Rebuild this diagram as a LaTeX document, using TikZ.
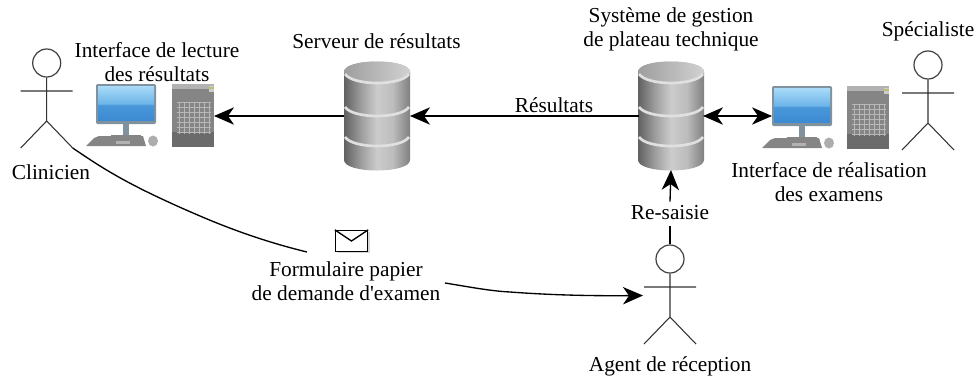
\documentclass[tikz,border=0pt]{standalone}
\usepackage{fontspec}
\setmainfont{Liberation Serif}[Ligatures=TeXOff]
\usetikzlibrary{arrows.meta,shadows,positioning}
\definecolor{scrB}{HTML}{3C8AD2}
\definecolor{scrM}{HTML}{4A97DA}
\definecolor{scrL}{HTML}{6DB4E8}
\definecolor{scrT}{HTML}{A9DBF8}
\definecolor{frameG}{HTML}{7F929E}
\pgfdeclarehorizontalshading{dbshade}{100bp}{color(0bp)=(black!62);color(25bp)=(black!62);color(38bp)=(black!38);color(50bp)=(black!20);color(62bp)=(black!26);color(75bp)=(black!50);color(100bp)=(black!50)}
\pgfdeclarehorizontalshading{dbtop}{100bp}{color(0bp)=(black!38);color(25bp)=(black!38);color(75bp)=(black!18);color(100bp)=(black!18)}
\pgfdeclareverticalshading{scrshade}{100bp}{color(0bp)=(scrB);color(25bp)=(scrB);color(47bp)=(scrM);color(49bp)=(scrL);color(75bp)=(scrT);color(100bp)=(scrT)}
\tikzset{
  x=0.75pt,y=-0.75pt,
  txt/.style={inner sep=0pt,align=center,font=\fontsize{16}{18}\selectfont,text=black},
  lnk/.style={line width=1pt,draw=black},
  arr/.style={lnk,-{Stealth[length=15pt,width=13pt,inset=4.5pt]}},
  arrb/.style={lnk,{Stealth[length=15pt,width=13pt,inset=4.5pt]}-{Stealth[length=15pt,width=13pt,inset=4.5pt]}},
  act/.style={line width=0.8pt,draw=black!80},
  anch/.style 2 args={inner sep=0pt,outer sep=0pt,minimum width=#1*0.75pt,minimum height=#2*0.75pt},
  pics/actor/.style={code={
    \node[circle,draw=black!75,line width=0.9pt,minimum size=28*0.75pt,inner sep=0pt] (-head) at (0,0) {};
    \draw[act] (-head.south) -- (0,58) (-26,28) -- (26,28) (-26,85) -- (0,58) -- (26,85);
    \coordinate (-footr) at (26,85);
  }},
  pics/dbase/.style={code={
    \shade[shading=dbshade] (-33,-44) .. controls (-33,-58) and (33,-58) .. (33,-44) -- (33,44)
       .. controls (33,58) and (-33,58) .. (-33,44) -- cycle;
    \shade[shading=dbtop] (-33,-44) .. controls (-33,-58) and (33,-58) .. (33,-44) .. controls (33,-30) and (-33,-30) .. (-33,-44) -- cycle;
    \foreach \yy in {-42,-9,21}{
      \draw[black!12,line width=2pt] (-32,\yy) .. controls (-24,\yy+12) and (24,\yy+12) .. (32,\yy);
    }
  }},
  pics/computer/.style={code={
    \fill[frameG] (27,40) rectangle (33,51);
    \fill[black!48] (15,51) rectangle (45,55);
    \fill[frameG,rounded corners=1pt] (0,0) rectangle (60,40);
    \shade[shading=scrshade] (2,2) rectangle (58,36);
    \fill[black!48] (-2,54) -- (3,52) -- (47,52) -- (50,62) -- (-10,62) -- cycle;
    \fill[black!30] (20,57) rectangle (34,60);
    \fill[black!32] (57,57) ellipse (5 and 5.5);
  }},
  pics/tower/.style={code={
    \fill[black!48] (0,0) rectangle (42,63);
    \fill[black!30] (0,0) rectangle (42,5);
    \fill[black!58] (0,48) rectangle (42,63);
    \fill[black!20] (37,2) rectangle (42,8);
    \fill[yellow!60!black!70] (37,3) rectangle (42,4.5);
    \foreach \gx in {7,12,...,37}{\draw[black!28,line width=0.5pt] (\gx,18) -- (\gx,50);}
    \foreach \gy in {18,23,...,50}{\draw[black!28,line width=0.5pt] (5,\gy) -- (39,\gy);}
  }}
}
\begin{document}
\begin{tikzpicture}
\useasboundingbox (0,0) rectangle (976,383);
% actors
\pic (clin) at (46.7,63) {actor};
\pic (spec) at (928,65) {actor};
\pic (agent) at (670,259) {actor};
% computers
\pic at (96,84) {computer};
\pic at (172,84) {tower};
\pic at (772,86) {computer};
\pic at (847,86) {tower};
\node[anch={60}{40}] (scrR) at (802,106) {};
\node[anch={42}{63}] (srvL) at (193,116) {};
% databases
\pic at (377,116) {dbase};
\pic at (671,116) {dbase};
\node[anch={66}{108}] (db1) at (377,116) {};
\node[anch={64}{108}] (db2) at (671,116) {};
% envelope
\node[draw=black,fill=white,line width=1pt,inner sep=0pt,minimum width=32*0.75pt,minimum height=21*0.75pt,
      drop shadow={shadow xshift=2pt,shadow yshift=-1pt,fill=black!30,opacity=0.5}] (mail) at (351.5,241) {};
\draw[line width=1pt] (mail.north west) -- (mail.center) -- (mail.north east);
% texts
\node[txt] (tLect) at (157,62) {Interface de lecture\\des résultats};
\node[txt] at (376.5,41) {Serveur de résultats};
\node[txt] at (671,29) {Système de gestion\\de plateau technique};
\node[txt] at (928,31) {Spécialiste};
\node[txt] at (51,172) {Clinicien};
\node[txt] at (829,182) {Interface de réalisation\\des examens};
\node[txt] (tRes) at (554,105) {Résultats};
\node[txt] (resaisie) at (670,213) {Re-saisie};
\node[txt] (form) at (346,281) {Formulaire papier\\de demande d'examen};
\node[txt] at (670,366) {Agent de réception};
% connectors
\draw[arr] (db1.west) -- (srvL.east);
\draw[arr] (db2.west) -- (db1.east);
\draw[arrb] (db2.east) -- (db2.east -| scrR.west);
\draw[arr] ([yshift=3pt]resaisie.north) -- (db2.south);
\draw[lnk] (agent-head.north) -- ([yshift=-4pt]resaisie.south);
\coordinate (fIn) at (307,252);
\coordinate (fOut) at (445,283);
\coordinate (agIn) at (643,295.5);
\draw[lnk] (clin-footr) .. controls (105,170) and (130,186) .. (200,216) .. controls (235,231) and (270,243) .. (fIn);
\draw[arr] (fOut) .. controls (470,287) and (490,291) .. (510,292) .. controls (550,295) and (590,296) .. (agIn);
\end{tikzpicture}
\end{document}
